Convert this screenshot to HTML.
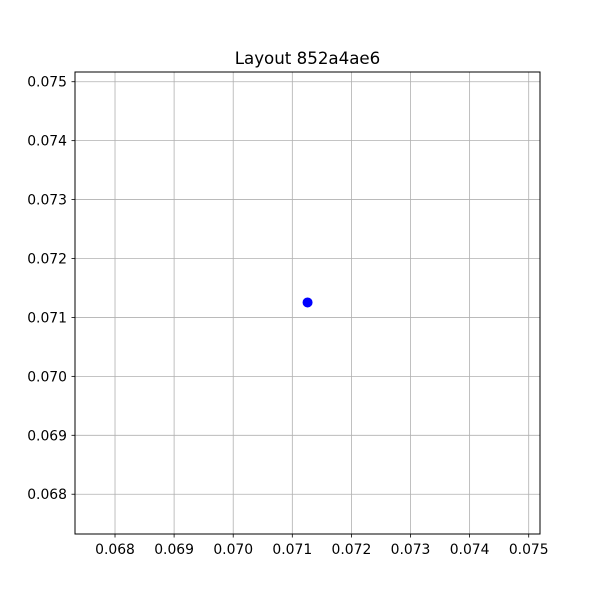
<!DOCTYPE html>
<html>
<head>
<meta charset="utf-8">
<style>
  html,body{margin:0;padding:0;background:#fff;}
  svg text{font-family:"DejaVu Sans","Liberation Sans",sans-serif;}
</style>
</head>
<body>
<svg id="chart" width="600" height="600" viewBox="0 0 600 600" xmlns="http://www.w3.org/2000/svg">
  <rect width="600" height="600" fill="#fff"/>
  <text x="307.5" y="64" text-anchor="middle" font-size="16.67">Layout 852a4ae6</text>
  <g id="grid"></g>
  <g id="ticks"></g>
  <g id="points"></g>
  <rect x="75" y="72" width="465" height="462" fill="none" stroke="#000" stroke-width="1"/>
</svg>
<script>
const xTicks = [0.068, 0.069, 0.070, 0.071, 0.072, 0.073, 0.074, 0.075];
const yTicks = [0.068, 0.069, 0.070, 0.071, 0.072, 0.073, 0.074, 0.075];
const xValues = [0.071258];
const yValues = [0.071254];

const X0 = 75, X1 = 540, Y0 = 534, Y1 = 72;
const xMin = 0.067323, xMax = 0.075191;
const yMin = 0.067325, yMax = 0.075165;
function sx(v){ return X0 + (v - xMin) / (xMax - xMin) * (X1 - X0); }
function sy(v){ return Y0 - (v - yMin) / (yMax - yMin) * (Y0 - Y1); }

const NS = "http://www.w3.org/2000/svg";
const grid = document.getElementById('grid');
const ticks = document.getElementById('ticks');
const pts = document.getElementById('points');
function mk(tag, attrs, parent){
  const e = document.createElementNS(NS, tag);
  for (const k in attrs) e.setAttribute(k, attrs[k]);
  parent.appendChild(e);
  return e;
}

xTicks.forEach(v => {
  const x = sx(v);
  const g = mk('line', {x1:x, x2:x, y1:Y1, y2:Y0, stroke:'#b0b0b0', 'stroke-width':0.8}, grid);
  
  
  const t = mk('line', {x1:x, x2:x, y1:Y0, y2:Y0+3.5, stroke:'#000', 'stroke-width':0.8}, ticks);
  
  
  const l = mk('text', {x:x, y:Y0+20, 'text-anchor':'middle', 'font-size':13.9}, ticks);
  l.textContent = v.toFixed(3);
  
  
});

yTicks.forEach(v => {
  const y = sy(v);
  const g = mk('line', {x1:X0, x2:X1, y1:y, y2:y, stroke:'#b0b0b0', 'stroke-width':0.8}, grid);
  
  
  const t = mk('line', {x1:X0-3.5, x2:X0, y1:y, y2:y, stroke:'#000', 'stroke-width':0.8}, ticks);
  
  
  const l = mk('text', {x:X0-8, y:y+5, 'text-anchor':'end', 'font-size':13.9}, ticks);
  l.textContent = v.toFixed(3);
  
  
});

xValues.forEach((v, i) => {
  const c = mk('circle', {cx:sx(v), cy:sy(yValues[i]), r:5, fill:'#0000ff'}, pts);
  
  
});
</script>
</body>
</html>
